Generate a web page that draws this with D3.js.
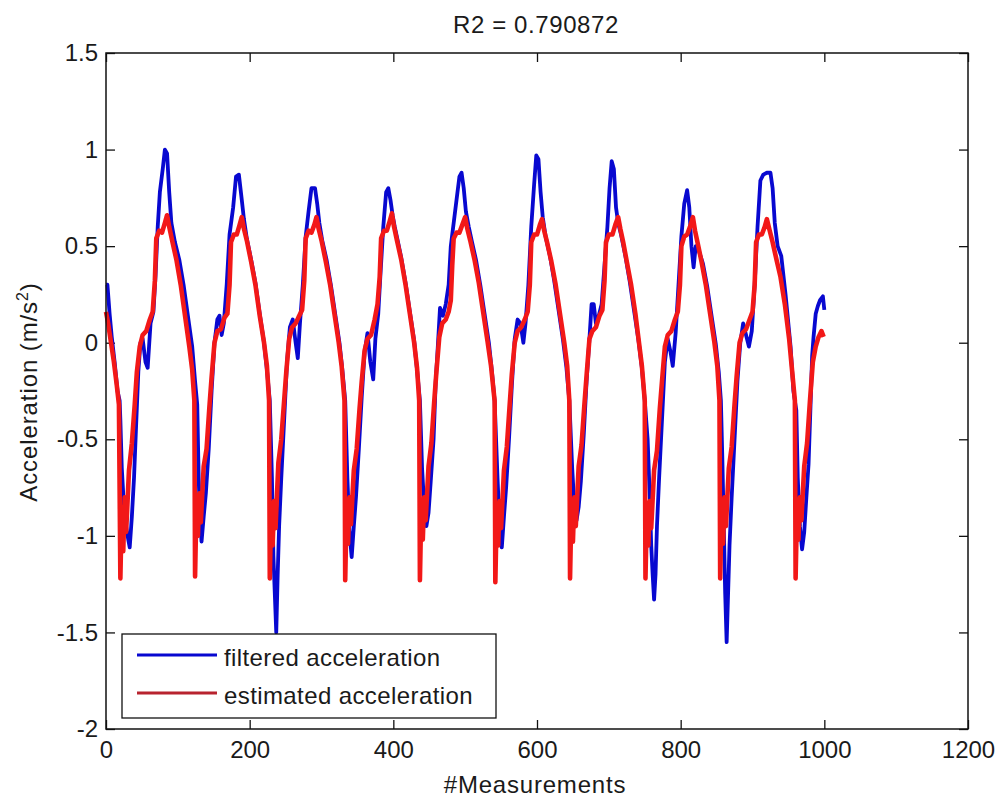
<!DOCTYPE html>
<html>
<head>
<meta charset="utf-8">
<script src="https://cdn.jsdelivr.net/npm/d3@7"></script>
<style>
body { margin: 0; background: #fff; }
svg text { font-family: "Liberation Sans", Arial, sans-serif; fill: #1a1a1a; }
</style>
</head>
<body>
<svg width="1000" height="801"></svg>
<script>
// tick values / labels
var xTicks = [0, 200, 400, 600, 800, 1000, 1200];
var yTicks = [-2, -1.5, -1, -0.5, 0, 0.5, 1, 1.5];
var yTickLabels = ["-2", "-1.5", "-1", "-0.5", "0", "0.5", "1", "1.5"];

var filtered = [
  [0,0.3],[2,0.3],[5,0.15],[8,0.03],[12,-0.1],[16,-0.25],[19,-0.3],
  [20,-0.4],[22,-0.65],[25,-0.85],[28,-0.95],[31,-1.02],[33,-1.06],[36,-0.9],[39,-0.7],[42,-0.42],[45,-0.15],[48,0.0],[51,0.02],[55,-0.1],[58,-0.13],[62,0.1],[66,0.16],[69,0.35],[72,0.6],[75,0.78],[79,0.9],[82,1.0],[85,0.98],[88,0.78],[91,0.62],[96,0.52],[102,0.43],[108,0.3],[114,0.14],[120,-0.02],[124,-0.2],[127,-0.32],
  [129,-0.7],[131,-0.92],[133,-1.03],[136,-0.9],[139,-0.78],[143,-0.55],[147,-0.25],[151,0.0],[155,0.12],[158,0.14],[161,0.04],[164,0.1],[168,0.3],[172,0.56],[177,0.7],[181,0.86],[185,0.87],[189,0.74],[192,0.64],[196,0.54],[202,0.43],[208,0.31],[214,0.15],[220,0.0],[224,-0.14],[228,-0.3],
  [231,-0.7],[233,-1.1],[235,-1.3],[237,-1.5],[239,-1.2],[241,-0.95],[244,-0.7],[248,-0.4],[252,-0.1],[256,0.08],[260,0.12],[264,0.0],[267,-0.08],[270,0.1],[274,0.3],[278,0.55],[282,0.68],[286,0.8],[291,0.8],[294,0.72],[297,0.62],[301,0.53],[307,0.43],[313,0.3],[319,0.15],[325,0.0],[329,-0.14],[333,-0.3],
  [336,-0.7],[339,-0.98],[342,-1.11],[345,-0.95],[348,-0.8],[352,-0.55],[356,-0.28],[360,-0.05],[364,0.05],[368,-0.1],[372,-0.19],[375,0.02],[379,0.15],[382,0.35],[386,0.6],[390,0.78],[393,0.8],[396,0.74],[399,0.66],[402,0.6],[406,0.53],[411,0.44],[417,0.31],[423,0.16],[429,0.01],[433,-0.14],[437,-0.3],
  [440,-0.65],[443,-0.85],[446,-0.95],[449,-0.88],[452,-0.72],[456,-0.5],[459,-0.2],[461,-0.08],[465,0.18],[469,0.14],[473,0.2],[477,0.3],[480,0.5],[484,0.62],[488,0.74],[492,0.86],[495,0.88],[498,0.8],[501,0.68],[505,0.6],[509,0.53],[515,0.43],[521,0.3],[527,0.15],[533,0.0],[537,-0.14],[541,-0.3],
  [545,-0.7],[548,-0.95],[551,-1.06],[554,-0.9],[557,-0.75],[561,-0.5],[565,-0.22],[569,0.02],[573,0.12],[577,0.1],[581,0.0],[584,0.1],[588,0.3],[592,0.6],[596,0.82],[599,0.97],[602,0.95],[605,0.78],[608,0.65],[612,0.55],[618,0.45],[624,0.32],[630,0.17],[636,0.02],[641,-0.13],[645,-0.3],
  [649,-0.65],[652,-0.85],[655,-0.92],[658,-0.85],[661,-0.72],[665,-0.48],[669,-0.2],[673,0.02],[676,0.2],[679,0.2],[682,0.1],[686,0.14],[690,0.2],[694,0.4],[698,0.6],[701,0.8],[704,0.94],[707,0.9],[710,0.7],[713,0.62],[717,0.56],[723,0.45],[729,0.32],[735,0.17],[741,0.02],[746,-0.13],[750,-0.3],
  [754,-0.5],[757,-0.8],[759,-1.05],[761,-1.2],[763,-1.33],[765,-1.2],[767,-0.95],[770,-0.7],[774,-0.4],[778,-0.1],[782,0.02],[786,-0.05],[789,-0.12],[793,0.05],[797,0.3],[801,0.55],[805,0.72],[809,0.79],[812,0.7],[815,0.5],[818,0.39],[821,0.5],[825,0.48],[831,0.41],[837,0.29],[843,0.14],[849,-0.01],[853,-0.15],[856,-0.3],
  [858,-0.6],[860,-0.95],[862,-1.3],[864,-1.55],[866,-1.3],[868,-1.05],[871,-0.8],[875,-0.5],[879,-0.2],[883,0.0],[887,0.1],[891,0.04],[895,-0.02],[899,0.06],[903,0.3],[907,0.6],[911,0.84],[915,0.87],[920,0.88],[925,0.88],[928,0.8],[931,0.62],[935,0.5],[940,0.45],[946,0.25],[953,-0.02],[957,-0.25],[961,-0.35],
  [963,-0.7],[966,-0.95],[969,-1.07],[972,-0.98],[975,-0.8],[978,-0.63],[981,-0.3],[983,-0.07],[985,0.03],[988,0.15],[991,0.19],[994,0.22],[998,0.24],[1000,0.17]
];

var estimated = [
  [0,0.16],[3,0.1],[7,0.0],[11,-0.1],[15,-0.22],[18,-0.32],
  [20,-1.22],[22,-0.85],[24,-1.08],[26,-0.8],[28,-0.98],[32,-0.66],[36,-0.52],[40,-0.32],[43,-0.15],[47,-0.02],[51,0.04],[56,0.06],[61,0.12],[65,0.16],[68,0.32],[70,0.54],[74,0.58],[78,0.57],[82,0.62],[85,0.66],[88,0.6],[92,0.53],[98,0.43],[104,0.3],[110,0.14],[116,-0.02],[120,-0.14],[123,-0.3],
  [124,-1.21],[126,-0.82],[128,-1.0],[130,-0.78],[132,-0.93],[136,-0.64],[140,-0.55],[144,-0.33],[147,-0.18],[151,0.0],[155,0.06],[160,0.07],[165,0.13],[169,0.15],[172,0.3],[174,0.52],[178,0.56],[182,0.56],[186,0.61],[189,0.65],[192,0.59],[196,0.53],[202,0.42],[208,0.3],[214,0.14],[220,0.0],[224,-0.12],[227,-0.3],
  [228,-1.22],[230,-0.86],[232,-1.05],[234,-0.82],[236,-0.96],[240,-0.62],[244,-0.5],[248,-0.3],[251,-0.15],[255,0.02],[259,0.08],[264,0.1],[269,0.14],[273,0.17],[276,0.32],[278,0.54],[282,0.58],[286,0.57],[290,0.61],[293,0.65],[296,0.59],[300,0.53],[306,0.42],[312,0.3],[318,0.15],[324,0.0],[328,-0.12],[332,-0.3],
  [333,-1.23],[335,-0.85],[337,-1.04],[339,-0.8],[341,-0.94],[345,-0.66],[349,-0.55],[353,-0.34],[356,-0.2],[360,-0.04],[364,0.02],[369,0.04],[374,0.12],[378,0.2],[381,0.34],[383,0.54],[387,0.58],[391,0.58],[395,0.63],[398,0.67],[401,0.6],[405,0.53],[411,0.43],[417,0.3],[423,0.15],[429,0.0],[433,-0.13],[436,-0.3],
  [437,-1.23],[439,-0.84],[441,-1.02],[443,-0.8],[445,-0.92],[449,-0.64],[453,-0.52],[457,-0.3],[460,-0.15],[464,0.03],[468,0.1],[473,0.12],[477,0.16],[480,0.22],[482,0.4],[484,0.54],[488,0.57],[492,0.57],[496,0.61],[500,0.65],[503,0.59],[507,0.53],[513,0.43],[519,0.31],[525,0.16],[531,0.01],[536,-0.12],[541,-0.3],
  [542,-1.24],[544,-0.86],[546,-1.05],[548,-0.82],[550,-0.96],[554,-0.66],[558,-0.54],[562,-0.32],[565,-0.16],[569,0.0],[573,0.06],[578,0.08],[583,0.12],[587,0.16],[590,0.3],[592,0.52],[596,0.56],[600,0.56],[604,0.61],[607,0.64],[610,0.58],[614,0.52],[620,0.42],[626,0.3],[632,0.15],[638,0.0],[642,-0.12],[645,-0.3],
  [646,-1.22],[648,-0.84],[650,-1.03],[652,-0.8],[654,-0.95],[658,-0.64],[662,-0.53],[666,-0.32],[669,-0.17],[673,0.02],[677,0.06],[682,0.08],[687,0.14],[691,0.17],[694,0.32],[696,0.52],[700,0.56],[705,0.56],[709,0.61],[713,0.65],[716,0.59],[720,0.52],[725,0.42],[731,0.3],[737,0.15],[742,0.0],[746,-0.12],[750,-0.3],
  [751,-1.22],[753,-0.86],[755,-1.05],[757,-0.82],[759,-0.96],[763,-0.66],[767,-0.56],[771,-0.34],[774,-0.2],[778,-0.02],[782,0.04],[787,0.06],[792,0.12],[796,0.16],[799,0.3],[801,0.5],[805,0.55],[809,0.56],[813,0.6],[817,0.65],[820,0.58],[824,0.51],[829,0.42],[835,0.3],[841,0.15],[847,0.0],[851,-0.12],[854,-0.3],
  [855,-1.22],[857,-0.85],[859,-1.04],[861,-0.8],[863,-0.95],[867,-0.65],[871,-0.54],[875,-0.32],[878,-0.17],[882,0.0],[886,0.05],[891,0.07],[896,0.12],[900,0.16],[903,0.3],[905,0.52],[909,0.56],[913,0.56],[917,0.6],[920,0.64],[924,0.58],[928,0.52],[934,0.42],[939,0.34],[945,0.2],[951,0.02],[955,-0.14],[959,-0.3],
  [960,-1.22],[962,-0.85],[964,-1.02],[966,-0.8],[968,-0.92],[972,-0.64],[976,-0.52],[980,-0.3],[984,-0.1],[988,-0.02],[992,0.03],[996,0.06],[999,0.03]
];

var seriesNames = ["filtered acceleration", "estimated acceleration"];

// plot box in pixels
var boxLeft = 106, boxRight = 968, boxTop = 53, boxBottom = 729;
var tick = 9;

var svg = d3.select("svg");
svg.append("rect").attr("width", 1000).attr("height", 801).attr("fill", "#fff");

var xscale = d3.scaleLinear().domain([0, 1200]).range([boxLeft, boxRight]);
var yscale = d3.scaleLinear().domain([-2, 1.5]).range([boxBottom, boxTop]);

function styleAxis(g) {
    g.attr("font-size", null).attr("font-family", null);
    g.select(".domain").remove();
    g.selectAll(".tick line").attr("stroke", "#111").attr("stroke-width", 1.3);
    g.selectAll("text").style("font-size", "24px").attr("fill", "#1a1a1a");
}

// bottom axis
svg.append("g")
    .attr("transform", "translate(0," + boxBottom + ")")
    .call(d3.axisBottom(xscale).tickValues(xTicks).tickSizeInner(-tick).tickSizeOuter(0).tickPadding(12)
        .tickFormat(d3.format("d")))
    .call(styleAxis);

// left axis
svg.append("g")
    .attr("transform", "translate(" + boxLeft + ",0)")
    .call(d3.axisLeft(yscale).tickValues(yTicks).tickSizeInner(-tick).tickSizeOuter(0).tickPadding(8)
        .tickFormat(function(d, i) { return yTickLabels[i]; }))
    .call(styleAxis);

// top and right ticks, no labels
svg.append("g")
    .attr("transform", "translate(0," + boxTop + ")")
    .call(d3.axisTop(xscale).tickValues(xTicks).tickSizeInner(-tick).tickSizeOuter(0).tickFormat(""))
    .call(styleAxis);
svg.append("g")
    .attr("transform", "translate(" + boxRight + ",0)")
    .call(d3.axisRight(yscale).tickValues(yTicks).tickSizeInner(-tick).tickSizeOuter(0).tickFormat(""))
    .call(styleAxis);

// the lines
var line = d3.line()
    .x(function(d) { return xscale(d[0]); })
    .y(function(d) { return yscale(d[1]); });

svg.append("path").datum(filtered)
    .attr("d", line).attr("fill", "none")
    .attr("stroke", "#0808d0").attr("stroke-width", 3.8)
    .attr("stroke-linejoin", "round");

svg.append("path").datum(estimated)
    .attr("d", line).attr("fill", "none")
    .attr("stroke", "#f21818").attr("stroke-width", 4.6)
    .attr("stroke-linejoin", "round");

// box
svg.append("rect")
    .attr("x", boxLeft).attr("y", boxTop)
    .attr("width", boxRight - boxLeft).attr("height", boxBottom - boxTop)
    .attr("fill", "none").attr("stroke", "#111").attr("stroke-width", 1.5);

// legend
var legend = svg.append("g");
legend.append("rect")
    .attr("x", 122).attr("y", 634).attr("width", 374).attr("height", 84)
    .attr("fill", "#fff").attr("stroke", "#111").attr("stroke-width", 1.3);
var legendColors = ["#0808d0", "#b8232e"];
seriesNames.forEach(function(name, i) {
    var y = 655 + i * 38;
    legend.append("line")
        .attr("x1", 137).attr("x2", 217).attr("y1", y).attr("y2", y)
        .attr("stroke", legendColors[i]).attr("stroke-width", 3);
    legend.append("text")
        .attr("x", 224).attr("y", y + 11)
        .style("font-size", "24px").style("letter-spacing", "0.4px")
        .text(name);
});

// title and labels
svg.append("text")
    .attr("x", 536).attr("y", 33).attr("text-anchor", "middle")
    .style("font-size", "24px").style("letter-spacing", "0.6px")
    .text("R2 = 0.790872");

svg.append("text")
    .attr("x", 535).attr("y", 793).attr("text-anchor", "middle")
    .style("font-size", "24px").style("letter-spacing", "0.8px")
    .text("#Measurements");

var ylab = svg.append("text")
    .attr("transform", "translate(37,392) rotate(-90)")
    .attr("text-anchor", "middle")
    .style("font-size", "24px").style("letter-spacing", "0.9px");
ylab.append("tspan").text("Acceleration (m/s");
ylab.append("tspan").attr("dy", -9).style("font-size", "16px").text("2");
ylab.append("tspan").attr("dy", 9).text(")");
</script>
</body>
</html>
